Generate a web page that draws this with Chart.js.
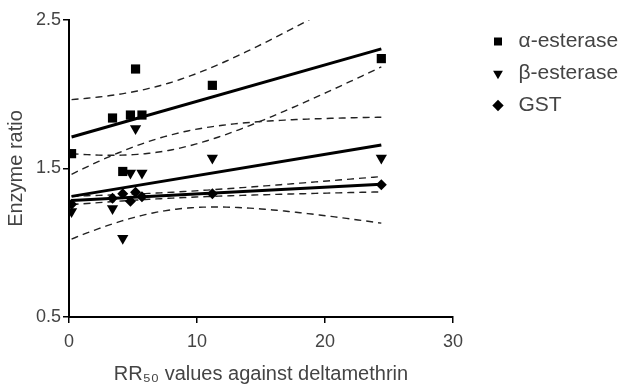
<!DOCTYPE html>
<html><head><meta charset="utf-8">
<script src="https://cdn.jsdelivr.net/npm/chart.js@4/dist/chart.umd.min.js"></script>
<style>html,body{margin:0;padding:0;background:#fff;}</style>
</head><body>
<canvas id="c" width="624" height="387" style="width:624px;height:387px;display:block"></canvas>
<script>
// ---- data ----
const rr50 = [0.2, 3.4, 4.2, 4.8, 5.2, 5.7, 11.2, 24.4];
const alphaEsterase = [1.60, 1.84, 1.48, 1.86, 2.17, 1.86, 2.06, 2.24];
const betaEsterase  = [1.21, 1.23, 1.03, 1.47, 1.77, 1.47, 1.57, 1.57];
const gstRatio      = [1.26, 1.30, 1.33, 1.28, 1.34, 1.31, 1.33, 1.39];
const seriesNames = ['\u03b1-esterase', '\u03b2-esterase', 'GST'];
const xTicks = [0, 10, 20, 30];
const yTicks = [0.5, 1.5, 2.5];
const xTitle = 'RR\u2085\u2080 values against deltamethrin';
const yTitle = 'Enzyme ratio';
const T_CRIT = 2.447; // two-sided 95% t value, df = n - 2 = 6

// ---- linear regression with 95% confidence bands ----
function fit(xs, ys) {
  const n = xs.length;
  const mx = xs.reduce((a, b) => a + b, 0) / n;
  const my = ys.reduce((a, b) => a + b, 0) / n;
  let sxx = 0, sxy = 0;
  for (let i = 0; i < n; i++) { sxx += (xs[i] - mx) ** 2; sxy += (xs[i] - mx) * (ys[i] - my); }
  const b = sxy / sxx, a = my - b * mx;
  let ssr = 0;
  for (let i = 0; i < n; i++) ssr += (ys[i] - (a + b * xs[i])) ** 2;
  return { a, b, mx, sxx, n, s: Math.sqrt(ssr / (n - 2)) };
}
function curves(xs, ys) {
  const f = fit(xs, ys);
  const lo = Math.min(...xs), hi = Math.max(...xs);
  const line = [{ x: lo, y: f.a + f.b * lo }, { x: hi, y: f.a + f.b * hi }];
  const up = [], dn = [];
  const steps = 80;
  for (let i = 0; i <= steps; i++) {
    const x = lo + (hi - lo) * i / steps;
    const y = f.a + f.b * x;
    const hw = T_CRIT * f.s * Math.sqrt(1 / f.n + (x - f.mx) ** 2 / f.sxx);
    up.push({ x, y: y + hw }); dn.push({ x, y: y - hw });
  }
  return { line, up, dn };
}
const pts = ys => rr50.map((x, i) => ({ x, y: ys[i] }));

const series = [alphaEsterase, betaEsterase, gstRatio];
const styles = [
  { pointStyle: 'rect', pointRadius: 6.5, rot: 0 },
  { pointStyle: 'triangle', pointRadius: 6.5, rot: 180 },
  { pointStyle: 'rectRot', pointRadius: 5.5, rot: 0 }
];
const datasets = [];
series.forEach((ys, k) => {
  datasets.push({
    label: seriesNames[k], data: pts(ys), showLine: false,
    pointStyle: styles[k].pointStyle, pointRadius: styles[k].pointRadius,
    pointRotation: styles[k].rot, backgroundColor: '#000', borderColor: '#000', borderWidth: 0
  });
});
series.forEach((ys, k) => {
  const c = curves(rr50, ys);
  datasets.push({ label: 'fit' + k, data: c.line, showLine: true, pointRadius: 0,
    borderColor: '#000', borderWidth: 3, fill: false });
  datasets.push({ label: 'up' + k, data: c.up, showLine: true, pointRadius: 0,
    borderColor: '#222', borderWidth: 1.4, borderDash: [7, 5], fill: false });
  datasets.push({ label: 'dn' + k, data: c.dn, showLine: true, pointRadius: 0,
    borderColor: '#222', borderWidth: 1.4, borderDash: [7, 5], fill: false });
});

const LEGEND_W = 171, LEGEND_SHIFT = 24;
const legendFix = {
  id: 'legendFix',
  beforeLayout(chart) {
    const lg = chart.legend;
    if (lg && !lg.__fixed) {
      const orig = lg.fit;
      lg.fit = function () { orig.call(this); this.width = LEGEND_W; };
      lg.__fixed = true;
    }
  },
  afterLayout(chart) {
    const lg = chart.legend;
    if (lg) { lg.left += LEGEND_SHIFT; lg.right += LEGEND_SHIFT; }
  }
};

const fam = "'Liberation Sans',Arial,sans-serif";
const tickFont = { family: fam, size: 18 };
new Chart(document.getElementById('c'), {
  type: 'scatter',
  data: { datasets },
  plugins: [legendFix],
  options: {
    responsive: false, animation: false, devicePixelRatio: 1,
    layout: { padding: { left: 0, right: 0, top: 20, bottom: 0 } },
    plugins: {
      tooltip: { enabled: false },
      legend: {
        position: 'right', align: 'start',
        labels: {
          filter: item => item.datasetIndex < 3,
          usePointStyle: true, boxWidth: 20, boxHeight: 8, padding: 11,
          color: '#444', font: { family: fam, size: 21 }
        }
      }
    },
    scales: {
      x: {
        type: 'linear', min: 0, max: 30,
        afterBuildTicks: s => { s.ticks = xTicks.map(v => ({ value: v })); },
        afterFit: s => { s.height = 70; },
        grid: { drawOnChartArea: false, drawTicks: true, tickLength: 6, color: '#000', lineWidth: 1.5 },
        border: { color: '#000', width: 2 },
        ticks: { color: '#444', font: tickFont, padding: 8, maxRotation: 0 },
        title: { display: true, text: xTitle, color: '#444', padding: { top: 0, bottom: 1 },
          font: { family: fam, size: 20 } }
      },
      y: {
        type: 'linear', min: 0.5, max: 2.5,
        afterBuildTicks: s => { s.ticks = yTicks.map(v => ({ value: v })); },
        afterFit: s => { s.width = 69; },
        grid: { drawOnChartArea: false, drawTicks: true, tickLength: 6, color: '#000', lineWidth: 1.5 },
        border: { color: '#000', width: 2 },
        ticks: { color: '#444', font: tickFont, padding: 2 },
        title: { display: true, text: yTitle, color: '#444', padding: { top: 4, bottom: 0 },
          font: { family: fam, size: 20 } }
      }
    }
  }
});
</script>
</body></html>
